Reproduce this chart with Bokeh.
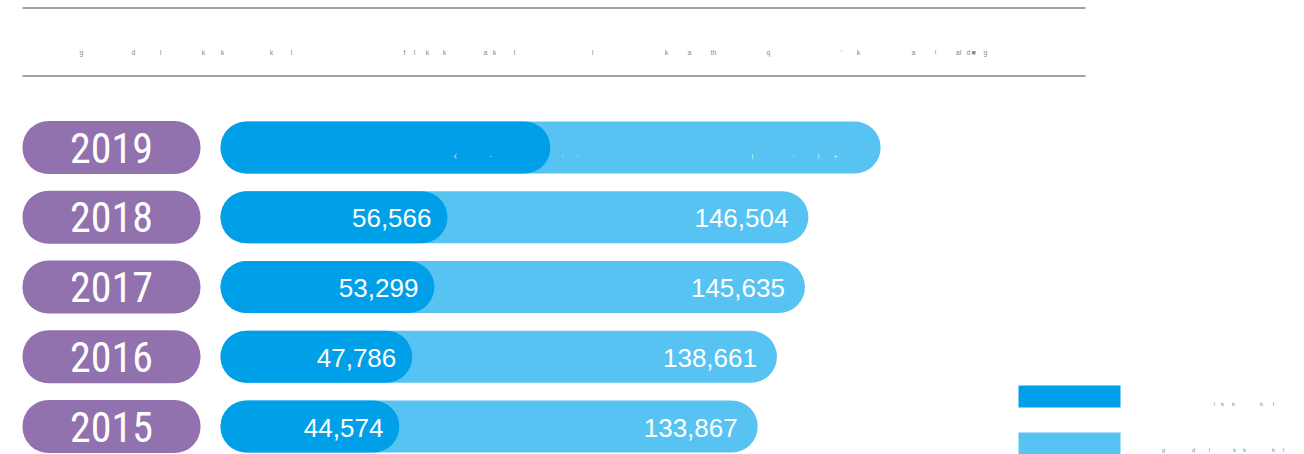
from bokeh.plotting import figure
from bokeh.models import Range1d, ColumnDataSource
from bokeh.core.properties import value
from bokeh.embed import file_html
from bokeh.resources import INLINE

# ---------------- data ----------------
years = [2019, 2018, 2017, 2016, 2015]
inner_values = [82200, 56566, 53299, 47786, 44574]      # 2019 (label unreadable)
total_values = [164500, 146504, 145635, 138661, 133867]  # 2019 (label unreadable)
labelled_years = [2018, 2017, 2016, 2015]
inner_labels = ["56,566", "53,299", "47,786", "44,574"]
total_labels = ["146,504", "145,635", "138,661", "133,867"]

# unreadable (broken-glyph) text fragments as they appear in the picture
header_tokens = ["g", "d", "l", "k", "k", "k", "l", "f", "l", "k", "k", "a", "k", "l", "l",
                 "k", "a", "th", "q", "'", "k", "a", "!", "al", "d", "\u25a0", "g"]
bar2019_tokens = ["-(", "-", "-", "-", "|", "-", "(", "+"]
legend1_tokens = ["i", "k", "k", "k", "l"]
legend2_tokens = ["g", "d", "l", "k", "k", "k", "l"]

# ---------------- layout / style ----------------
W, H = 1304, 454
ORIGIN_PX = 220          # x pixel of value 0
PX_PER_UNIT = 0.004013
ROW_PX = 69.75
TOP_ROW_CENTER = 147

DARK = "#00A0E9"
LIGHT = "#57C3F2"
PURPLE = "#9271AF"
LINE = "#444444"
FRAG = "#8a8a8a"

header_x = [81, 133, 160, 203, 222, 271, 291, 404, 414, 427, 444, 485, 494, 514, 592,
            666, 689, 713, 768, 841, 858, 913, 935, 958, 968, 973, 985]
bar2019_x = [454, 490, 562, 577, 752, 793, 818, 835]
legend1_x = [1214, 1222, 1233, 1261, 1273]
legend2_x = [1163, 1193, 1209, 1234, 1244, 1273, 1283]

x_start = -ORIGIN_PX / PX_PER_UNIT
x_end = x_start + W / PX_PER_UNIT
y_end = years[0] + TOP_ROW_CENTER / ROW_PX
y_start = y_end - H / ROW_PX

p = figure(width=W, height=H, x_range=Range1d(x_start, x_end), y_range=Range1d(y_start, y_end),
           output_backend="svg", toolbar_location=None, min_border=0,
           x_axis_location=None, y_axis_location=None, outline_line_color=None)
p.grid.visible = False
p.background_fill_color = "white"
p.border_fill_color = "white"
p.extra_x_ranges = {"px": Range1d(0, W)}
p.extra_y_ranges = {"px": Range1d(H, 0)}

src = ColumnDataSource(dict(year=years, inner=inner_values, total=total_values,
                            year_str=[str(y) for y in years]))
lsrc = ColumnDataSource(dict(year=labelled_years,
                             inner=[inner_values[years.index(y)] for y in labelled_years],
                             total=[total_values[years.index(y)] for y in labelled_years],
                             inner_lbl=inner_labels, total_lbl=total_labels))

# header rules
p.segment(x0=22, x1=1085, y0=[7.5, 75.5], y1=[7.5, 75.5], line_color=LINE, line_width=1,
          x_range_name="px", y_range_name="px")
p.text(x=header_x, y=[52] * len(header_x), text=header_tokens, x_range_name="px", y_range_name="px",
       text_font_size="7px", text_color=FRAG, text_baseline="middle", text_align="center",
       text_font=value("Liberation Sans"))

# bars
p.hbar(y="year", left=0, right="total", height=52 / ROW_PX, fill_color=LIGHT, line_color=None,
       border_radius=26, source=src)
p.hbar(y="year", left=0, right="inner", height=52 / ROW_PX, fill_color=DARK, line_color=None,
       border_radius=26, source=src)

# year pills
p.hbar(y="year", left=22, right=200, height=53 / ROW_PX, fill_color=PURPLE, line_color=None,
       border_radius=26, source=src, x_range_name="px")
p.text(x=111, y="year", text="year_str", source=src, x_range_name="px",
       text_align="center", text_baseline="middle", text_color="white", text_font_size="42px",
       text_font=value("'Noto Sans ExtraCondensed Light', 'Noto Sans ExtraCondensed', "
                       "'Noto Sans Condensed', 'Roboto Condensed', "
                       "'Liberation Sans Narrow', 'DejaVu Sans Condensed', sans-serif"))

# value labels
p.text(x="inner", y="year", text="inner_lbl", source=lsrc, x_offset=-16, y_offset=1,
       text_align="right", text_baseline="middle", text_color="white", text_font_size="26px",
       text_font=value("Liberation Sans"))
p.text(x="total", y="year", text="total_lbl", source=lsrc, x_offset=-20, y_offset=1,
       text_align="right", text_baseline="middle", text_color="white", text_font_size="26px",
       text_font=value("Liberation Sans"))
p.text(x=bar2019_x, y=[155] * len(bar2019_x), text=bar2019_tokens, x_range_name="px", y_range_name="px",
       text_font_size="6px", text_color="white", text_baseline="middle", text_align="center",
       text_font=value("Liberation Sans"))

# legend swatches
p.quad(left=1018, right=1120, top=[385, 432], bottom=[407, 454], fill_color=[DARK, LIGHT],
       line_color=None, x_range_name="px", y_range_name="px")
p.text(x=legend1_x, y=[403] * len(legend1_x), text=legend1_tokens, x_range_name="px", y_range_name="px",
       text_font_size="6px", text_color=FRAG, text_baseline="middle", text_align="center",
       text_font=value("Liberation Sans"))
p.text(x=legend2_x, y=[449] * len(legend2_x), text=legend2_tokens, x_range_name="px", y_range_name="px",
       text_font_size="6px", text_color=FRAG, text_baseline="middle", text_align="center",
       text_font=value("Liberation Sans"))

open("out.html", "w").write(file_html(p, INLINE))
